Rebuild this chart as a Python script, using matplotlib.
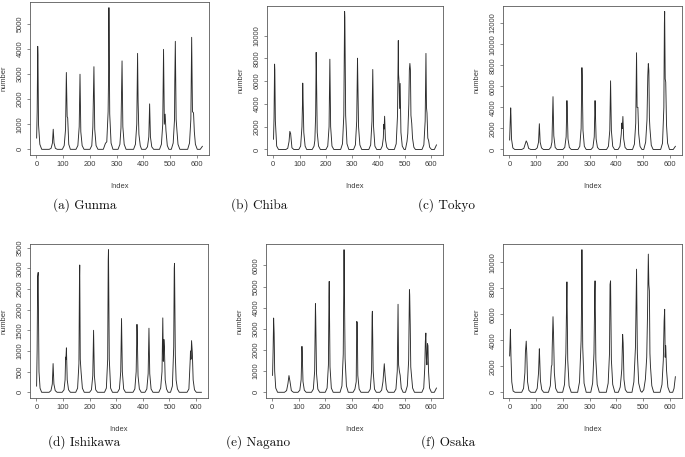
#!/usr/bin/env python3
"""
Six weekly count series (one per prefecture) drawn R-style in a 2x3 grid,
with LaTeX-like sub-captions under each panel. Saves out.png.
"""

import matplotlib
matplotlib.use('Agg')
import matplotlib.pyplot as plt


# ---------------------------------------------------------------------------
# Data (vertices: index, number)
# ---------------------------------------------------------------------------

gunma_idx = [1, 3, 5, 6, 8, 13, 20, 48, 55, 60, 63, 66, 71, 78,
             97, 104, 109, 112, 115, 117, 121, 127,
             148, 155, 160, 163, 166, 171, 178,
             200, 207, 211, 215, 218, 223, 230,
             250, 258, 263, 268, 270, 271, 274, 279, 286,
             305, 312, 316, 320, 323, 328, 335,
             363, 370, 375, 378, 380, 383, 388, 393,
             408, 415, 420, 423, 426, 431, 438,
             460, 467, 472, 475, 478, 481, 484, 489, 495,
             504, 511, 516, 517, 519, 522, 525, 529, 536,
             565, 572, 577, 580, 583, 587, 590, 594, 601,
             612, 620]
gunma_num = [450, 1500, 4100, 3750, 1000, 200, 0, 0, 40, 250, 800, 250, 40, 0,
             0, 150, 800, 3060, 1300, 1250, 200, 0,
             0, 150, 900, 2990, 700, 150, 0,
             0, 150, 900, 3290, 800, 150, 0,
             0, 240, 300, 1500, 3200, 5640, 1400, 250, 0,
             0, 200, 850, 3520, 900, 200, 0,
             0, 200, 1000, 3820, 1900, 600, 150, 0,
             0, 100, 500, 1810, 500, 100, 0,
             0, 200, 1000, 3980, 1000, 1400, 750, 150, 0,
             0, 250, 1200, 2700, 4300, 1200, 750, 200, 0,
             0, 250, 1200, 4460, 1500, 1450, 700, 200, 0,
             0, 120]

chiba_idx = [1, 3, 5, 6, 8, 13, 20, 48, 55, 60, 63, 66, 71, 78,
             97, 104, 109, 111, 112, 113, 116, 121, 127,
             148, 155, 158, 161, 163, 164, 167, 172, 179,
             200, 207, 212, 215, 218, 223, 230,
             256, 263, 268, 271, 272, 275, 280, 287,
             305, 312, 317, 320, 321, 324, 329, 336,
             363, 370, 375, 378, 381, 386, 393,
             408, 414, 418, 420, 421, 423, 426, 431, 438,
             460, 467, 472, 475, 476, 478, 480, 482, 485, 490, 497,
             502, 508, 511, 515, 517, 519, 521, 523, 526, 529, 534, 540,
             565, 572, 577, 580, 582, 584, 587, 590, 594, 601,
             612, 620]
chiba_num = [900, 2800, 7500, 7000, 2500, 300, 0, 0, 100, 700, 1590, 1400, 150, 0,
             0, 300, 2000, 4000, 5830, 4800, 1500, 300, 0,
             0, 300, 800, 3000, 8530, 7000, 1500, 300, 0,
             0, 300, 2000, 7930, 2000, 300, 0,
             0, 500, 3000, 12120, 11600, 3000, 500, 0,
             0, 400, 2500, 8020, 6500, 2000, 400, 0,
             0, 400, 2500, 7030, 2000, 300, 0,
             0, 300, 1000, 2200, 1800, 2920, 900, 200, 0,
             0, 500, 3000, 9570, 6600, 5900, 3600, 5800, 1500, 300, 0,
             0, 700, 1400, 4000, 7000, 7560, 7000, 3000, 2300, 1000, 200, 0,
             0, 400, 2500, 8440, 3700, 3200, 1000, 800, 200, 0,
             0, 400]

tokyo_idx = [1, 3, 5, 6, 8, 13, 20, 46, 54, 59, 63, 67, 72, 80,
             97, 104, 109, 112, 115, 120, 127,
             148, 155, 159, 163, 166, 171, 178,
             200, 207, 212, 215, 216, 219, 224, 231,
             256, 263, 268, 271, 272, 275, 280, 287,
             305, 312, 317, 320, 321, 324, 329, 336,
             363, 370, 375, 378, 381, 386, 393,
             406, 413, 418, 420, 422, 424, 427, 432, 439,
             460, 467, 472, 475, 477, 480, 483, 488, 495,
             502, 509, 514, 517, 519, 521, 523, 525, 530, 537,
             565, 572, 577, 579, 580, 582, 584, 587, 591, 598,
             612, 620]
tokyo_num = [900, 2500, 3950, 3200, 1000, 150, 0, 0, 100, 500, 815, 600, 100, 0,
             0, 150, 700, 2445, 700, 150, 0,
             0, 200, 700, 5015, 1300, 200, 0,
             0, 200, 1200, 4640, 4000, 1000, 200, 0,
             0, 300, 2000, 7770, 7000, 1800, 300, 0,
             0, 200, 1200, 4640, 3800, 1000, 200, 0,
             0, 300, 1800, 6520, 1800, 300, 0,
             0, 300, 1500, 2510, 2000, 3135, 1000, 200, 0,
             0, 500, 2500, 9185, 4000, 4000, 1500, 300, 0,
             0, 700, 2800, 7000, 8150, 7500, 3000, 2000, 400, 0,
             0, 600, 4000, 12000, 13100, 6700, 6400, 2300, 600, 0,
             0, 300]

ishikawa_idx = [1, 3, 5, 7, 8, 10, 14, 20, 48, 55, 60, 63, 66, 71, 78,
                97, 104, 108, 110, 111, 113, 116, 121, 128,
                148, 155, 160, 162, 163, 165, 168, 173, 180,
                200, 207, 212, 215, 218, 223, 230,
                256, 263, 268, 270, 271, 274, 279, 286,
                305, 312, 317, 320, 323, 328, 335,
                363, 370, 375, 378, 379, 382, 387, 394,
                408, 415, 420, 423, 426, 431, 438,
                460, 467, 472, 475, 477, 479, 481, 484, 489, 495,
                504, 511, 516, 518, 519, 522, 525, 530, 537,
                566, 573, 578, 579, 581, 583, 586, 589, 594, 601,
                620]
ishikawa_num = [150, 1000, 2800, 2900, 2000, 500, 100, 0, 0, 40, 200, 695, 200, 40, 0,
                0, 60, 300, 850, 800, 1075, 300, 60, 0,
                0, 100, 700, 2700, 3080, 800, 500, 100, 0,
                0, 60, 400, 1500, 400, 60, 0,
                0, 100, 800, 3200, 3450, 800, 100, 0,
                0, 80, 500, 1785, 500, 80, 0,
                0, 80, 500, 1643, 1450, 400, 80, 0,
                0, 80, 450, 1550, 450, 80, 0,
                0, 100, 500, 1800, 750, 1280, 1100, 300, 80, 0,
                0, 150, 1100, 3000, 3120, 900, 300, 80, 0,
                0, 80, 800, 1000, 800, 1250, 950, 300, 60, 0,
                0]

nagano_idx = [1, 3, 5, 7, 9, 13, 20, 46, 54, 59, 63, 67, 72, 80,
              97, 104, 109, 112, 113, 116, 121, 128,
              148, 155, 160, 163, 164, 167, 172, 179,
              200, 207, 212, 214, 215, 218, 223, 230,
              256, 263, 268, 271, 272, 275, 280, 287,
              305, 312, 317, 319, 321, 323, 328, 335,
              363, 370, 375, 377, 378, 381, 386, 393,
              406, 413, 418, 421, 423, 426, 431, 438,
              460, 467, 472, 475, 477, 480, 483, 487, 494,
              503, 510, 515, 518, 519, 521, 523, 525, 530, 537,
              565, 572, 576, 578, 580, 582, 584, 586, 588, 590, 594, 601,
              612, 620]
nagano_num = [800, 1900, 3510, 2800, 1000, 200, 0, 0, 80, 400, 790, 500, 80, 0,
              0, 100, 600, 2170, 1900, 500, 100, 0,
              0, 150, 1000, 4190, 3600, 900, 150, 0,
              0, 200, 1300, 4500, 5240, 1200, 200, 0,
              0, 300, 1800, 6740, 5400, 1600, 300, 0,
              0, 150, 500, 3350, 3300, 800, 150, 0,
              0, 150, 1000, 3600, 3830, 1000, 150, 0,
              0, 100, 500, 1000, 1350, 800, 150, 0,
              0, 150, 1000, 4160, 1300, 1000, 800, 200, 0,
              0, 300, 1500, 4850, 4600, 3200, 1200, 900, 200, 0,
              0, 200, 1200, 2400, 2800, 1600, 1300, 2300, 2200, 1000, 200, 0,
              0, 200]

osaka_idx = [1, 3, 4, 6, 9, 14, 21, 46, 53, 58, 60, 63, 65, 68, 73, 80,
             97, 104, 109, 112, 113, 116, 121, 128,
             146, 153, 157, 159, 160, 163, 165, 168, 173, 180,
             199, 206, 211, 214, 215, 218, 223, 231,
             255, 262, 268, 270, 271, 274, 279, 287,
             304, 311, 316, 319, 320, 323, 328, 336,
             362, 369, 374, 376, 378, 381, 386, 394,
             407, 414, 418, 420, 423, 425, 428, 433, 440,
             458, 465, 471, 475, 478, 483, 490, 495,
             502, 508, 513, 516, 519, 521, 523, 525, 527, 532, 539,
             563, 570, 575, 578, 580, 582, 584, 587, 592, 599,
             610, 615, 620]
osaka_num = [2800, 4100, 4850, 2800, 800, 100, 0, 0, 300, 1500, 3100, 3940, 3000, 800, 150, 0,
             0, 300, 1500, 3350, 2800, 900, 200, 0,
             0, 500, 2000, 2100, 3400, 5820, 4500, 1500, 300, 0,
             0, 600, 3000, 7200, 8500, 2500, 500, 0,
             0, 800, 4000, 7300, 10980, 3500, 700, 0,
             0, 700, 3000, 7800, 8580, 2500, 600, 0,
             0, 700, 3000, 8300, 8580, 2500, 600, 0,
             0, 400, 1300, 1800, 4460, 3800, 1000, 200, 0,
             0, 800, 3500, 9480, 3000, 700, 100, 0,
             200, 1000, 2700, 6000, 10640, 8300, 7800, 3000, 2000, 500, 0,
             0, 600, 2500, 5500, 6390, 2700, 3600, 1700, 400, 0,
             0, 300, 1200]

x_ticks = [0, 100, 200, 300, 400, 500, 600]
gunma_yticks = [0, 1000, 2000, 3000, 4000, 5000]
chiba_yticks = [0, 2000, 4000, 6000, 8000, 10000]
tokyo_yticks = [0, 2000, 4000, 6000, 8000, 10000, 12000]
ishikawa_yticks = [0, 500, 1000, 1500, 2000, 2500, 3000, 3500]
nagano_yticks = [0, 1000, 2000, 3000, 4000, 5000, 6000]
osaka_yticks = [0, 2000, 4000, 6000, 8000, 10000]

captions = ['(a) Gunma', '(b) Chiba', '(c) Tokyo',
            '(d) Ishikawa', '(e) Nagano', '(f) Osaka']


# ---------------------------------------------------------------------------
# Layout (pixel boxes in a 685x457 figure: left, right, top, bottom)
# ---------------------------------------------------------------------------

W, H = 685, 457

PANELS = [
    (gunma_idx,    gunma_num,    gunma_yticks,    (30, 209, 2, 155),   (85, 205)),
    (chiba_idx,    chiba_num,    chiba_yticks,    (267, 443, 6, 155),  (259, 205)),
    (tokyo_idx,    tokyo_num,    tokyo_yticks,    (503, 682, 6, 155),  (446, 205)),
    (ishikawa_idx, ishikawa_num, ishikawa_yticks, (30, 208, 244, 398), (84, 442)),
    (nagano_idx,   nagano_num,   nagano_yticks,   (266, 443, 244, 398), (258, 442)),
    (osaka_idx,    osaka_num,    osaka_yticks,    (503, 682, 244, 398), (448, 442)),
]

SANS = ['Liberation Sans', 'DejaVu Sans']
FRAME = '#5a5a5a'
TXT = '#3a3a3a'
FS = 5.4


def rect(l, r, t, b):
    return [l / W, 1 - b / H, (r - l) / W, (b - t) / H]


def main():
    fig = plt.figure(figsize=(W / 100, H / 100), dpi=100)

    for (xs, ys, yt, box, cap_xy), cap in zip(PANELS, captions):
        l, r, t, b = box
        ax = fig.add_axes(rect(l, r, t, b))
        ax.plot(xs, ys, color='#2b2b2b', linewidth=0.65)
        ax.margins(x=0.04, y=0.04)

        ax.set_xticks(x_ticks)
        ax.set_yticks(yt)
        ax.set_xticklabels([str(v) for v in x_ticks], family=SANS, fontsize=FS,
                           color=TXT)
        ax.set_yticklabels([str(v) for v in yt], family=SANS, fontsize=FS,
                           color=TXT, rotation=90, va='center')
        ax.tick_params(direction='out', length=2.3, width=0.5, pad=2.2,
                       colors=FRAME, labelcolor=TXT)
        for s in ax.spines.values():
            s.set_color(FRAME)
            s.set_linewidth(0.6)

        ax.set_xlabel('Index', family=SANS, fontsize=FS, color=TXT)
        ax.set_ylabel('number', family=SANS, fontsize=FS, color=TXT)
        ax.xaxis.set_label_coords(0.5, -28 / (b - t))
        ax.yaxis.set_label_coords(-22 / (r - l), 0.5)

        fig.text(cap_xy[0] / W, 1 - cap_xy[1] / H, cap, ha='center', va='center',
                 family='cmr10', fontsize=9.5, color='#111111')

    fig.savefig('out.png', dpi=100)
    plt.close(fig)


if __name__ == '__main__':
    main()
